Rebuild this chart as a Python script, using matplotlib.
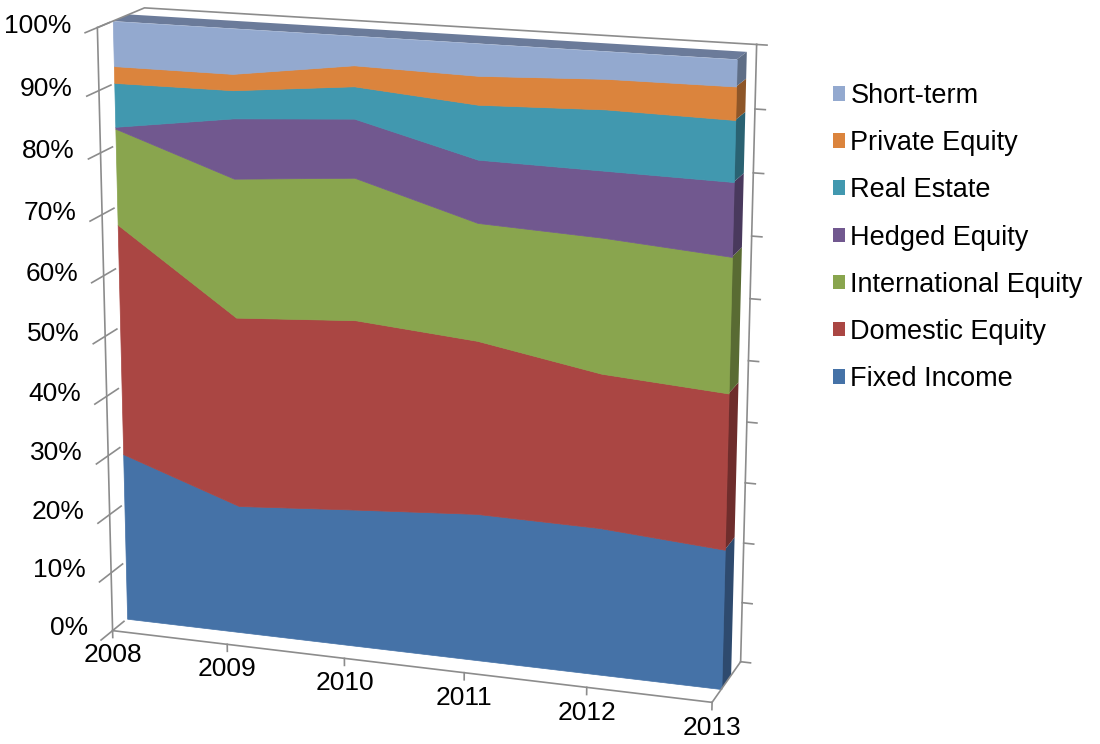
import numpy as np
import matplotlib
matplotlib.use("Agg")
import matplotlib.pyplot as plt
from matplotlib.patches import Patch
from mpl_toolkits.mplot3d import proj3d
from mpl_toolkits.mplot3d.art3d import Poly3DCollection

plt.rcParams["font.family"] = ["Liberation Sans", "DejaVu Sans"]

# --- data (percent of portfolio) ---
years = ["2008", "2009", "2010", "2011", "2012", "2013"]
series = ["Fixed Income", "Domestic Equity", "International Equity",
          "Hedged Equity", "Real Estate", "Private Equity", "Short-term"]
fixed_income = [28.5, 21.7, 23.2, 24.6, 24.4, 23.0]
domestic_eq = [38.5, 31.6, 31.4, 28.4, 25.1, 25.2]
intl_eq = [15.7, 22.7, 23.0, 18.9, 21.6, 21.5]
hedged_eq = [0.3, 9.7, 9.4, 10.0, 10.5, 11.6]
real_estate = [7.1, 4.5, 5.1, 8.6, 9.5, 9.5]
private_eq = [2.7, 2.6, 3.3, 4.5, 4.7, 5.1]
short_term = [7.2, 7.2, 4.6, 5.0, 4.2, 4.1]
pct_ticks = [0, 10, 20, 30, 40, 50, 60, 70, 80, 90, 100]

colors = ["#4572A7", "#AA4643", "#89A54E", "#71588F", "#4198AF", "#DB843D", "#93A9CF"]
side_colors = ["#2E4A6E", "#6E2D2C", "#596B33", "#49395D", "#2A6272", "#8E5628", "#5F6E86"]
top_color = "#6B7B9A"
axis_col = "#8C8C8C"

vals = np.array([fixed_income, domestic_eq, intl_eq, hedged_eq,
                 real_estate, private_eq, short_term], dtype=float)
share = vals / vals.sum(axis=0)
cum = np.vstack([np.zeros(len(years)), np.cumsum(share, axis=0)])
xs = np.arange(len(years))
xe = xs[-1]

W, H = 1100, 744
fig = plt.figure(figsize=(W / 100, H / 100), dpi=100)
ax = fig.add_axes([-0.005, 0.008, 0.76, 1.02], projection="3d", computed_zorder=False)
ax.set_proj_type("persp", focal_length=0.85)
ax.view_init(elev=15.5, azim=-71.4)
ax.set_xlim(0, xe)
ax.set_ylim(0, 1)
ax.set_zlim(0, 1)
ax.set_box_aspect((1.075, 0.20, 1.065), zoom=1.16)
ax.set_axis_off()

yf, yb = 0.32, 0.66   # slab front / back in depth

# back-right wall axis with ticks
ax.plot([xe, xe], [1, 1], [0, 1], color=axis_col, lw=1.2)
for t in pct_ticks:
    ax.plot([xe, xe + 0.08], [1, 1], [t / 100, t / 100], color=axis_col, lw=1.2)
# top outline of the walls
ax.plot([0, 0, xe], [0, 1, 1], [1, 1, 1], color=axis_col, lw=1.2)
# floor right edge
ax.plot([xe, xe], [0, 1], [0, 0], color=axis_col, lw=1.2)

# slab: top face, right end, front faces
top = [[(0, yf, 1), (xe, yf, 1), (xe, yb, 1), (0, yb, 1)]]
ax.add_collection3d(Poly3DCollection(top, facecolor=top_color, edgecolor="none"))
for k in range(len(series)):
    lo, hi = cum[k, -1], cum[k + 1, -1]
    side = [[(xe, yf, lo), (xe, yb, lo), (xe, yb, hi), (xe, yf, hi)]]
    ax.add_collection3d(Poly3DCollection(side, facecolor=side_colors[k], edgecolor="none"))
for k in range(len(series)):
    verts = [(x, yf, z) for x, z in zip(xs, cum[k])] + \
            [(x, yf, z) for x, z in zip(xs[::-1], cum[k + 1][::-1])]
    ax.add_collection3d(Poly3DCollection([verts], facecolor=colors[k],
                                         edgecolor=colors[k], lw=0.5))

# front axes
ax.plot([0, 0], [0, 0], [0, 1], color=axis_col, lw=1.2)
ax.plot([0, xe], [0, 0], [0, 0], color=axis_col, lw=1.2)
for t in pct_ticks:
    ax.plot([0, 0], [-0.25, 0.25], [t / 100, t / 100], color=axis_col, lw=1.2)
for i in xs:
    ax.plot([i, i], [0, 0], [0, -0.012], color=axis_col, lw=1.2)

# tick labels: project 3D anchor points to figure space, draw as plain figure text
fig.canvas.draw()
M = ax.get_proj()


def fig_xy(x, y, z):
    px, py, _ = proj3d.proj_transform(x, y, z, M)
    dx, dy = ax.transData.transform((px, py))
    return dx / W, dy / H


for t in pct_ticks:
    fx, fy = fig_xy(-0.22, 0, t / 100)
    fig.text(fx, fy, f"{t}%", ha="right", va="center", fontsize=19)
for i, yr in enumerate(years):
    fx, fy = fig_xy(i, 0, -0.022)
    fig.text(fx, fy, yr, ha="center", va="top", fontsize=19)

handles = [Patch(facecolor=colors[k], edgecolor="none") for k in range(len(series))][::-1]
fig.legend(handles, series[::-1], loc="upper left", bbox_to_anchor=(0.735, 0.921),
           frameon=False, fontsize=19.5, handlelength=0.45, handleheight=0.45,
           handletextpad=0.2, labelspacing=0.78)

fig.savefig("out.png", dpi=100)
